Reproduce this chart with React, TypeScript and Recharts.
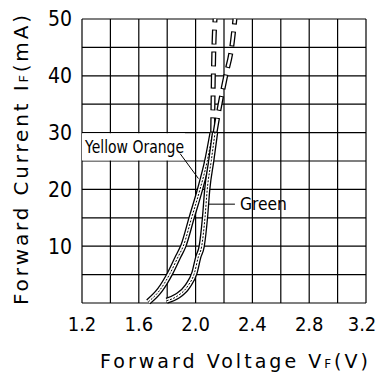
import React from "react";
import {
  LineChart,
  Line,
  XAxis,
  YAxis,
  CartesianGrid,
  ReferenceArea,
  ReferenceLine,
  ReferenceDot,
  Label,
} from "recharts";

// grid ticks (every cell) and the ones that carry a label
const voltTicks = [1.2, 1.4, 1.6, 1.8, 2.0, 2.2, 2.4, 2.6, 2.8, 3.0, 3.2];
const voltLabels = ["1.2", "1.6", "2.0", "2.4", "2.8", "3.2"];
const currTicks = [0, 5, 10, 15, 20, 25, 30, 35, 40, 45, 50];
const currLabels = ["10", "20", "30", "40", "50"];

const seriesNames = ["Yellow Orange", "Green"];

// Yellow Orange, measured part and extrapolated (dashed) part
const yoVolt = [1.667, 1.749, 1.82, 1.878, 1.913, 1.972, 2.031, 2.082, 2.12];
const yoCurr = [0.2, 2.3, 5.2, 8.2, 10, 15, 20, 25, 30];
const yoUpVolt = [2.12, 2.125, 2.137];
const yoUpCurr = [30, 40, 50];

// Green
const grVolt = [1.796, 1.87, 1.945, 1.992, 2.019, 2.043, 2.066, 2.082, 2.11, 2.137];
const grCurr = [0.4, 1.2, 3.0, 5.3, 8.1, 10, 15, 20, 25, 30];
const grUpVolt = [2.137, 2.172, 2.212, 2.254, 2.277];
const grUpCurr = [30, 35, 40, 45, 50];

const zip = (v: number[], c: number[]) => v.map((x, i) => ({ v: x, i: c[i] }));

const yoData = zip(yoVolt, yoCurr);
const yoUp = zip(yoUpVolt, yoUpCurr);
const grData = zip(grVolt, grCurr);
const grUp = zip(grUpVolt, grUpCurr);

const tickFont = "'Liberation Sans Narrow', 'DejaVu Sans Condensed', 'Liberation Sans', sans-serif";
const titleFont = "'DejaVu Sans', sans-serif";

// one curve drawn as a band: black outline, white core, dashed centre
function band(key: string, data: { v: number; i: number }[]) {
  return [
    <Line key={key + "a"} data={data} dataKey="i" type="monotone" stroke="#000" strokeWidth={6.4} dot={false} isAnimationActive={false} />,
    <Line key={key + "b"} data={data} dataKey="i" type="monotone" stroke="#fff" strokeWidth={3.8} dot={false} isAnimationActive={false} />,
    <Line key={key + "c"} data={data} dataKey="i" type="monotone" stroke="#000" strokeWidth={1} strokeDasharray="2 1.5" dot={false} isAnimationActive={false} />,
  ];
}

// extrapolated part: hollow dashes
function hollow(key: string, data: { v: number; i: number }[]) {
  return [
    <Line key={key + "a"} data={data} dataKey="i" type="monotone" stroke="#000" strokeWidth={5} strokeDasharray="15 7" dot={false} isAnimationActive={false} />,
    <Line key={key + "b"} data={data} dataKey="i" type="monotone" stroke="#fff" strokeWidth={2.4} strokeDasharray="13 9" strokeDashoffset={-1} dot={false} isAnimationActive={false} />,
  ];
}

// x tick: only labelled values, last one nudged in so it isn't clipped
const VoltTick = (props: any) => {
  const s = Number(props.payload.value).toFixed(1);
  if (!voltLabels.includes(s)) return null;
  const last = s === voltLabels[voltLabels.length - 1];
  return (
    <text x={props.x + (last ? -4 : 0)} y={props.y} dy="0.71em" textAnchor="middle" fill="#000" fontSize={20} fontFamily={tickFont}>
      {s}
    </text>
  );
};

export default function App() {
  // cancel the body margin so the chart can use the whole window
  return (
    <div style={{ margin: -8 }}>
      <LineChart width={384} height={381} margin={{ top: 19, right: 18, left: 0, bottom: 0 }}>
        <CartesianGrid stroke="#000" strokeWidth={1.2} />
        <XAxis
          dataKey="v"
          type="number"
          domain={[1.2, 3.2]}
          ticks={voltTicks}
          height={78}
          tickLine={false}
          axisLine={false}
          tickMargin={8}
          tick={VoltTick}
        >
          <Label
            content={() => (
              <text x={100} y={368} textLength={268} lengthAdjust="spacing" fontFamily={titleFont} fontSize={19} fill="#000" style={{ whiteSpace: "pre" }}>
                Forward Voltage V
                <tspan fontSize={12}>F</tspan>
                <tspan>(V)</tspan>
              </text>
            )}
          />
        </XAxis>
        <YAxis
          type="number"
          domain={[0, 50]}
          ticks={currTicks}
          width={82}
          tickLine={false}
          axisLine={false}
          tickMargin={4}
          tick={{ fill: "#000", fontSize: 21, fontFamily: tickFont }}
          tickFormatter={(t: number) => (currLabels.includes(String(t)) ? String(t) : "")}
        >
          <Label
            content={() => (
              <text x={0} y={0} transform="translate(28,305) rotate(-90)" textLength={290} lengthAdjust="spacing" fontFamily={titleFont} fontSize={20} fill="#000" style={{ whiteSpace: "pre" }}>
                Forward Current I
                <tspan fontSize={13}>F</tspan>
                <tspan>(mA)</tspan>
              </text>
            )}
          />
        </YAxis>

        <ReferenceArea
          x1={1.2}
          x2={1.925}
          y1={25.1}
          y2={29.9}
          fill="#fff"
          fillOpacity={1}
          stroke="none"
          label={{
            content: (p: any) => (
              <text x={p.viewBox.x + 3} y={p.viewBox.y + p.viewBox.height / 2 + 6} textLength={99} lengthAdjust="spacingAndGlyphs" fontFamily={titleFont} fontSize={17} fill="#000">
                {seriesNames[0]}
              </text>
            ),
          }}
        />
        <ReferenceLine segment={[{ x: 1.891, y: 26.3 }, { x: 2.02, y: 21.9 }]} stroke="#000" strokeWidth={1} />
        <ReferenceLine segment={[{ x: 2.08, y: 17.4 }, { x: 2.277, y: 17.4 }]} stroke="#000" strokeWidth={1} />
        <ReferenceDot
          x={2.277}
          y={17.4}
          r={1}
          fill="none"
          stroke="none"
          label={{
            content: (p: any) => (
              <text x={p.viewBox.x + p.viewBox.width + 4} y={p.viewBox.y + p.viewBox.height / 2 + 6} textLength={47} lengthAdjust="spacingAndGlyphs" fontFamily={titleFont} fontSize={17} fill="#000">
                {seriesNames[1]}
              </text>
            ),
          }}
        />

        {band("yo", yoData)}
        {band("gr", grData)}
        {hollow("yoU", yoUp)}
        {hollow("grU", grUp)}
      </LineChart>
    </div>
  );
}
